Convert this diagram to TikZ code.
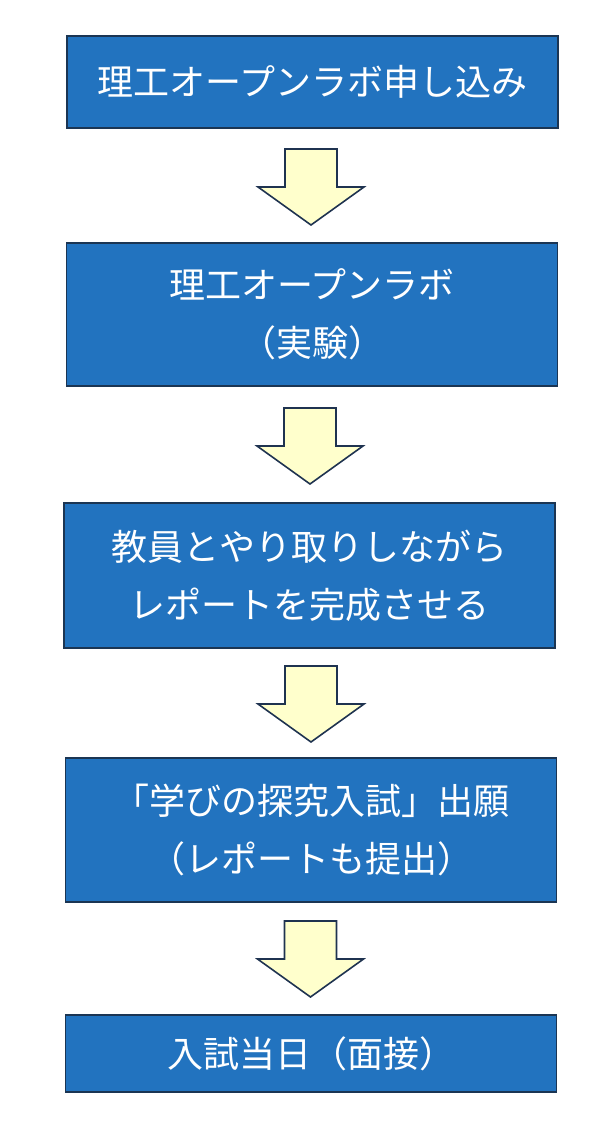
\documentclass[tikz,border=0pt]{standalone}
\usepackage{fontspec}
\newfontfamily\cjk{Noto Sans CJK JP}
\definecolor{boxblue}{HTML}{2273BF}
\definecolor{boxedge}{HTML}{1B3553}
\definecolor{arrowfill}{HTML}{FFFFCC}
\definecolor{arrowedge}{HTML}{1F3350}
\tikzset{
  stepbox/.style={draw=boxedge, line width=1.6pt, fill=boxblue, text=white,
    align=center, inner sep=0pt, minimum width=491pt,
    font=\cjk\fontsize{36}{58}\selectfont},
  blockarrow/.style={draw=arrowedge, line width=1.6pt, fill=arrowfill, line join=miter}
}
\begin{document}
\begin{tikzpicture}[x=1pt,y=-1pt]
\useasboundingbox (0,0) rectangle (613,1123);
\node[stepbox, minimum height=92pt] (b1) at (312.5,82) {理工オープンラボ申し込み};
\node[stepbox, minimum height=143pt] (b2) at (312,314.5) {理工オープンラボ\\（実験）};
\node[stepbox, minimum height=145pt] (b3) at (309.5,575.5) {教員とやり取りしながら\\レポートを完成させる};
\node[stepbox, minimum height=144pt] (b4) at (311,830) {「学びの探究入試」出願\\（レポートも提出）};
\node[stepbox, minimum height=77pt] (b5) at (311,1053.5) {入試当日（面接）};
\coordinate (a1) at (311,149);
\coordinate (a2) at (310,408);
\coordinate (a3) at (311,666);
\coordinate (a4) at (310.5,921);
\foreach \a in {a1,a2,a3,a4}{
  \draw[blockarrow] (\a) ++(-26,0) -- ++(52,0) -- ++(0,38) -- ++(27,0)
    -- ++(-53,38) -- ++(-53,-38) -- ++(27,0) -- cycle;
}
\end{tikzpicture}
\end{document}
